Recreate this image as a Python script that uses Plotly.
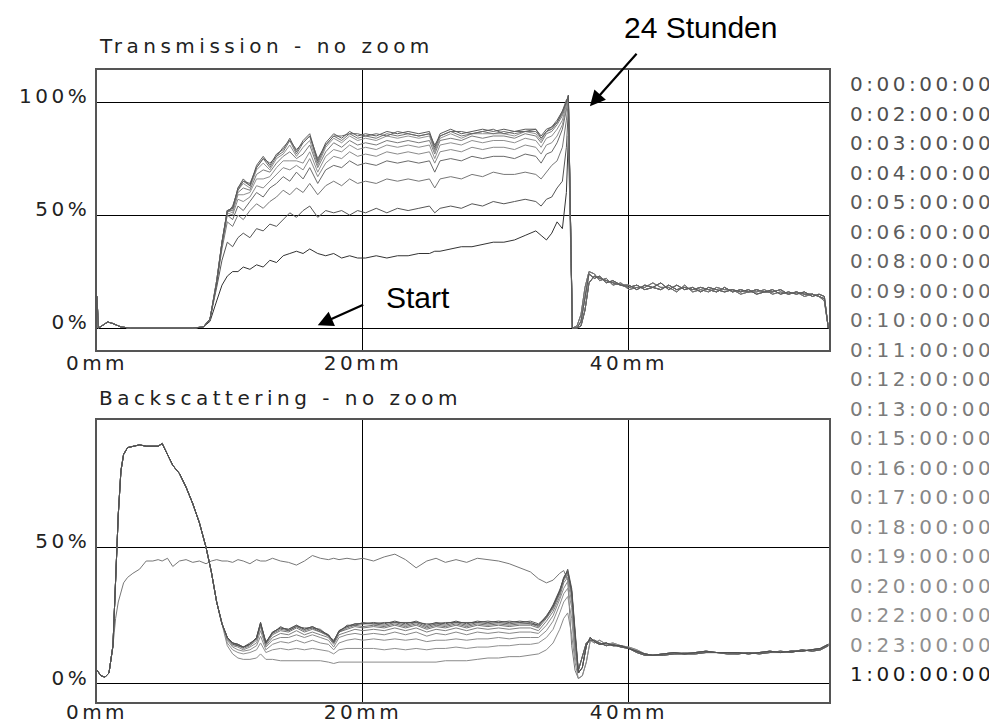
import plotly.graph_objects as go

# legend list of measurement times
TIMES = ["0:00:00:00", "0:02:00:00", "0:03:00:00", "0:04:00:00", "0:05:00:00",
         "0:06:00:00", "0:08:00:00", "0:09:00:00", "0:10:00:00", "0:11:00:00",
         "0:12:00:00", "0:13:00:00", "0:15:00:00", "0:16:00:00", "0:17:00:00",
         "0:18:00:00", "0:19:00:00", "0:20:00:00", "0:22:00:00", "0:23:00:00",
         "1:00:00:00"]

# ---------------- Transmission (height in mm, value in %) ----------------
X_T_LEFT = [0, 0.1, 0.5, 0.8, 1.2, 1.8, 2.5, 7.2, 8.0]
T_LEFT = [14, 0, 1.5, 2.7, 2, 0.5, 0, 0, 0.5]

X_T_MID = [8.5, 9.0, 9.4, 9.8, 10.2, 10.6, 11.0, 11.5, 12.0, 12.5,
           13.0, 13.5, 14.0, 14.5, 15.0, 15.5, 16.0, 16.6, 17.2, 17.8,
           18.4, 19.0, 19.6, 20.2, 21.0, 21.8, 22.6, 23.4, 24.2, 25.0,
           25.4, 25.8, 26.6, 27.4, 28.2, 29.0, 29.8, 30.6, 31.4, 32.2,
           33.0, 33.4, 33.8, 34.2, 34.6, 35.0, 35.3, 35.45]

T_0H = [3, 12, 19, 23, 25, 25, 27, 26, 28, 27,
        30, 29, 32, 33, 34, 33, 35, 33, 32, 33,
        31, 32, 31, 31, 32, 31, 32, 32, 33, 33,
        34, 34, 35, 36, 36, 37, 38, 38, 39, 41,
        43, 41, 39, 42, 47, 44, 60, 85]
T_2H = [4, 18, 30, 38, 36, 40, 42, 40, 44, 43,
        46, 45, 48, 51, 49, 52, 54, 49, 52, 51,
        52, 50, 52, 51, 53, 51, 53, 52, 53, 54,
        51, 53, 54, 53, 55, 54, 56, 55, 56, 57,
        56, 54, 57, 58, 62, 65, 80, 97]
T_3H = [4, 20, 35, 47, 45, 50, 48, 52, 55, 53,
        56, 58, 61, 59, 62, 60, 64, 59, 63, 65,
        63, 66, 64, 65, 64, 66, 65, 66, 65, 66,
        62, 66, 67, 66, 68, 67, 69, 68, 68, 69,
        68, 66, 69, 72, 74, 80, 92, 100]
T_4H = [4, 21, 37, 50, 48, 54, 52, 56, 60, 58,
        62, 64, 67, 65, 69, 66, 71, 64, 70, 72,
        71, 74, 72, 73, 72, 74, 73, 74, 73, 74,
        69, 74, 75, 74, 76, 75, 76, 76, 75, 77,
        76, 73, 77, 78, 82, 88, 96, 101]
T_5H = [4, 21, 38, 51, 50, 57, 56, 58, 63, 62,
        65, 68, 71, 70, 72, 70, 75, 67, 73, 76,
        75, 78, 76, 77, 76, 78, 77, 78, 77, 78,
        73, 78, 79, 78, 80, 79, 80, 80, 79, 81,
        80, 77, 81, 82, 85, 90, 97, 101]
T_6H = [4, 21, 38, 52, 51, 59, 59, 60, 66, 66,
        67, 71, 74, 74, 74, 73, 78, 69, 76, 79,
        78, 81, 79, 80, 79, 81, 80, 81, 80, 81,
        75, 81, 82, 81, 83, 82, 83, 83, 82, 84,
        83, 80, 84, 85, 88, 92, 98, 102]
T_8H = [4, 21, 38, 52, 52, 60, 62, 61, 68, 70,
        69, 73, 76, 78, 75, 77, 81, 71, 78, 82,
        80, 83, 81, 82, 81, 83, 82, 83, 82, 83,
        77, 83, 84, 83, 85, 84, 85, 85, 84, 86,
        85, 82, 86, 87, 90, 94, 99, 102]
T_10H = [4, 20, 38, 52, 53, 61, 64, 62, 70, 73,
         70, 75, 77, 81, 76, 80, 83, 72, 80, 84,
         82, 85, 83, 84, 83, 85, 84, 85, 84, 85,
         78, 84, 86, 84, 86, 86, 86, 86, 85, 87,
         86, 83, 87, 88, 91, 95, 99, 103]
T_13H = [4, 20, 38, 52, 53, 62, 65, 63, 71, 75,
         71, 76, 78, 83, 77, 82, 85, 73, 81, 85,
         83, 86, 84, 85, 84, 86, 85, 86, 85, 86,
         79, 85, 87, 85, 86, 87, 86, 87, 86, 87,
         87, 84, 87, 88, 91, 95, 100, 103]
T_17H = [4, 20, 37, 51, 54, 61, 65, 64, 71, 75,
         73, 76, 80, 83, 79, 82, 85, 75, 81, 85,
         85, 86, 86, 85, 86, 85, 87, 86, 85, 86,
         81, 85, 87, 87, 86, 87, 88, 86, 87, 87,
         88, 84, 87, 89, 91, 96, 101, 102]
T_24H = [4, 20, 38, 52, 53, 62, 66, 63, 72, 76,
         72, 77, 79, 84, 78, 83, 86, 74, 82, 86,
         84, 87, 85, 86, 85, 87, 86, 87, 86, 87,
         80, 86, 88, 86, 87, 88, 87, 88, 87, 88,
         88, 85, 88, 89, 92, 96, 100, 103]

X_T_RIGHT = [35.75, 36.1, 36.4, 36.7, 37.0, 37.4, 37.8, 38.3, 38.8, 39.4,
             40.0, 40.6, 41.2, 41.8, 42.4, 43.0, 43.6, 44.2, 44.8, 45.4,
             46.0, 46.6, 47.2, 47.8, 48.4, 49.0, 49.6, 50.2, 50.8, 51.4,
             52.0, 52.6, 53.2, 53.8, 54.3, 54.7, 55.0]
T_RIGHT_A = [0, 0, 1, 8, 20, 23, 22, 21, 20, 19,
             18, 19, 17, 18, 17, 19, 17, 18, 17, 18,
             17, 16, 18, 16, 17, 16, 17, 16, 16, 17,
             15, 16, 15, 15, 14, 13, 0]
T_RIGHT_B = [0, 0, 3, 14, 24, 22, 23, 20, 21, 19,
             19, 17, 19, 18, 20, 17, 19, 17, 18, 16,
             18, 17, 16, 17, 16, 17, 15, 16, 17, 15,
             16, 15, 16, 14, 15, 14, 0]
T_RIGHT_C = [0, 1, 6, 18, 25, 24, 21, 22, 19, 20,
             17, 18, 18, 20, 18, 18, 16, 19, 16, 17,
             16, 18, 17, 17, 15, 16, 16, 17, 15, 16,
             15, 16, 14, 15, 14, 12, 0]

# ---------------- Backscattering ----------------
X_B_LEFT = [0, 0.3, 0.6, 0.9, 1.2, 1.4, 1.6, 1.8, 2.0, 2.3,
            2.7, 3.2, 3.7, 4.2, 4.6, 4.9, 5.3, 5.7, 6.2, 6.7,
            7.2, 7.7, 8.2, 8.6, 9.0, 9.4]
B_LEFT_MAIN = [5, 3, 2.5, 4, 14, 38, 62, 78, 84, 86.5,
               87, 87.5, 87, 87, 87, 88, 84, 80, 77, 72,
               66, 59, 50, 41, 30, 22]
B_LEFT_0H = [5, 3, 2.5, 4, 14, 24, 30, 34, 37, 39,
             40.5, 42, 45, 45, 45.5, 45, 46, 43, 45, 45.5,
             44.5, 45, 44, 45, 45.5, 45]

X_B_MID = [9.8, 10.2, 10.6, 11.0, 11.5, 12.0, 12.3, 12.7, 13.2, 13.8,
           14.4, 15.0, 15.6, 16.2, 16.8, 17.4, 17.8, 18.2, 18.8, 19.4,
           20.0, 20.8, 21.6, 22.4, 23.2, 24.0, 24.8, 25.5, 26.2, 27.0,
           27.8, 28.6, 29.4, 30.2, 31.0, 31.8, 32.6, 33.2, 33.8, 34.3,
           34.8, 35.1, 35.4, 35.7, 35.95]

B_0H = [45, 44.5, 45.5, 45, 44, 45.5, 45, 45, 46, 45,
        44.5, 43.5, 45, 47, 46, 45.5, 46, 45.5, 46, 45.5,
        46, 45, 46.5, 47.5, 45.5, 42.5, 45, 46, 44.5, 45.5,
        44.5, 46, 45.5, 45, 44, 42.5, 41, 38.5, 37, 38,
        40.5, 41.5, 38, 14, 5]
B_2H = [14, 11, 9.5, 9, 9, 9.5, 11, 9, 9, 8.5,
        8.5, 8.5, 8.5, 8.5, 8.5, 8, 7.5, 8, 8, 8,
        8, 8, 8, 8, 8, 8, 8, 8, 8.5, 8.5,
        8.5, 9, 9.5, 9.5, 10, 10, 10.5, 11, 12.5, 15,
        20, 24, 26, 18, 8]
B_3H = [15, 12.5, 11.5, 11, 11.5, 12.5, 15, 11.5, 12.5, 13,
        12.5, 13, 12.5, 13, 12.5, 12, 11, 12.5, 13, 13,
        13, 13, 12.5, 13, 12.5, 13, 12.5, 13, 13, 13.5,
        13, 13.5, 13.5, 14, 14, 14.5, 14.5, 15, 17, 20,
        26, 30, 32, 24, 10]
B_4H = [16, 13.5, 12.5, 12, 12.5, 14, 17.5, 12.5, 14.5, 15.5,
        15, 16, 15, 16, 15, 14.5, 12.5, 15, 16, 16.5,
        16, 16.5, 16, 16.5, 16, 16.5, 15.5, 16, 16, 16.5,
        16, 16.5, 16.5, 17, 16.5, 17, 17, 17, 19.5, 23,
        29, 33, 35, 28, 12]
B_5H = [16.5, 14, 13.5, 12.5, 13.5, 15, 19.5, 13.5, 16, 17,
        17, 18, 17, 18, 17, 16, 13.5, 17, 18, 18.5,
        18, 18.5, 18, 19, 18, 19, 17.5, 18.5, 18, 19,
        18, 19, 18.5, 19, 18.5, 19, 19, 18.5, 21.5, 25,
        31, 35, 37.5, 30, 14]
B_6H = [17, 14.5, 14, 13, 14, 16, 21, 14, 17, 18.5,
        18, 19.5, 18, 19, 18, 17, 14.5, 18, 19, 20,
        19.5, 20, 19.5, 20.5, 19.5, 20.5, 19, 20, 19.5, 20.5,
        19.5, 20.5, 20, 20.5, 20, 20.5, 20.5, 19.5, 23, 26.5,
        32, 37, 39, 32, 16]
B_8H = [17, 15, 14, 13.5, 14.5, 16.5, 22, 14.5, 18, 19.5,
        19, 20.5, 19, 20, 19, 17.5, 15, 19, 20, 21,
        20.5, 21, 20.5, 21.5, 20.5, 21.5, 20, 21, 20.5, 21.5,
        20.5, 21.5, 21, 21.5, 21, 21.5, 21.5, 20.5, 24, 27.5,
        33, 38, 40, 33, 17]
B_10H = [17, 15, 14.5, 13.5, 14.5, 17, 22, 15, 18.5, 20,
         19.5, 21, 19.5, 20.5, 19, 18, 15, 19, 20.5, 21.5,
         21, 21.5, 21, 22, 21, 22, 20.5, 21.5, 21, 22,
         21, 22, 21.5, 22, 21.5, 22, 22, 21, 24.5, 28,
         33.5, 38.5, 40.5, 33.5, 18]
B_13H = [17, 15, 14.5, 13.5, 14.5, 17, 22.5, 15, 19, 20.5,
         20, 21.5, 20, 21, 19.5, 18, 15.5, 19.5, 21, 22,
         22, 22, 21.5, 22.5, 21.5, 22.5, 21, 22, 21.5, 22.5,
         21.5, 22.5, 22, 22.5, 22, 22.5, 22, 21.5, 24.5, 28.5,
         34, 39, 41, 34, 18.5]
B_17H = [17, 14.5, 14, 13.5, 15, 16.5, 22, 15.5, 18.5, 21,
         19.5, 21, 20.5, 20.5, 20, 17.5, 16, 19, 21.5, 21.5,
         22.5, 22, 22.5, 22.5, 22.5, 22.5, 22, 22, 22.5, 22.5,
         22.5, 22.5, 23, 22.5, 23, 22.5, 23, 22, 24.5, 29,
         34.5, 38.5, 42, 35, 19.5]
B_24H = [17, 15, 14.5, 13.5, 14.5, 17, 22.5, 15, 19, 20.5,
         20, 21.5, 20, 21, 19.5, 18, 15.5, 19.5, 21, 22,
         22, 22.5, 22, 23, 22, 23, 21.5, 22.5, 22, 23,
         22, 23, 22.5, 23, 22.5, 23, 22.5, 21.5, 25, 28.5,
         34, 39, 41.5, 34, 19]

X_B_RIGHT = [36.2, 36.5, 36.8, 37.1, 37.4, 37.8, 38.3, 38.8, 39.4, 40.0,
             40.6, 41.2, 41.8, 42.6, 43.4, 44.2, 45.0, 45.8, 46.6, 47.4,
             48.2, 49.0, 49.8, 50.6, 51.4, 52.2, 53.0, 53.8, 54.4, 55.0]
B_RIGHT_A = [2, 3, 8, 16, 15, 16, 14.5, 15, 14, 13.5,
             12.5, 11, 10.5, 11, 11, 11.5, 11.5, 11.5, 11.5, 11.5,
             11, 11.5, 11.5, 11.5, 11.5, 12, 12, 12.5, 12.5, 14]
B_RIGHT_B = [4, 6, 14, 17, 15.5, 14.5, 15, 14, 14, 13,
             12, 11, 10.5, 11, 11.5, 11, 11.5, 12, 11.5, 11.5,
             11.5, 11, 11.5, 12, 11.5, 12, 12, 12.5, 13, 14.5]
B_RIGHT_C = [5, 10, 15, 16, 16, 15, 14, 14.5, 13.5, 13,
             11.5, 10.5, 10.5, 10.5, 11, 11, 11, 11.5, 11.5, 11,
             11, 11.5, 11, 11.5, 12, 11.5, 12.5, 12, 12.5, 14]

# curves drawn: (label, transmission mid, T right part, BS left, BS mid, BS right)
CURVES = [
    ("0h", T_0H, T_RIGHT_A, B_LEFT_0H, B_0H, B_RIGHT_A),
    ("2h", T_2H, T_RIGHT_B, B_LEFT_MAIN, B_2H, B_RIGHT_A),
    ("3h", T_3H, T_RIGHT_C, B_LEFT_MAIN, B_3H, B_RIGHT_B),
    ("4h", T_4H, T_RIGHT_A, B_LEFT_MAIN, B_4H, B_RIGHT_C),
    ("5h", T_5H, T_RIGHT_B, B_LEFT_MAIN, B_5H, B_RIGHT_B),
    ("6h", T_6H, T_RIGHT_C, B_LEFT_MAIN, B_6H, B_RIGHT_C),
    ("8h", T_8H, T_RIGHT_A, B_LEFT_MAIN, B_8H, B_RIGHT_B),
    ("10h", T_10H, T_RIGHT_B, B_LEFT_MAIN, B_10H, B_RIGHT_C),
    ("13h", T_13H, T_RIGHT_C, B_LEFT_MAIN, B_13H, B_RIGHT_B),
    ("17h", T_17H, T_RIGHT_A, B_LEFT_MAIN, B_17H, B_RIGHT_C),
    ("24h", T_24H, T_RIGHT_B, B_LEFT_MAIN, B_24H, B_RIGHT_B),
]

T_COLORS = ["#333333", "#555555", "#777777", "#6a6a6a", "#8a8a8a", "#8f8f8f",
            "#7a7a7a", "#909090", "#727272", "#666666", "#5a5a5a"]
B_COLORS = ["#777777", "#8a8a8a", "#909090", "#8c8c8c", "#888888", "#7e7e7e",
            "#777777", "#707070", "#666666", "#5e5e5e", "#505050"]
LABEL_COLORS = ["#4d4d4d", "#505050", "#535353", "#565656", "#5a5a5a", "#5e5e5e",
                "#636363", "#686868", "#6d6d6d", "#727272", "#777777", "#7b7b7b",
                "#7f7f7f", "#828282", "#858585", "#888888", "#8a8a8a", "#8c8c8c",
                "#8e8e8e", "#909090", "#1a1a1a"]

W, H = 997, 722
OFF = 8  # the page body adds an 8px margin around the plot div
FONT = "DejaVu Sans"
TXT = "#222222"


def px(x):
    return (x - OFF) / W


def py(y):
    return 1 - (y - OFF) / H


def spaced(s, sp=3.5):
    return '<span style="letter-spacing:%spx">%s</span>' % (sp, s)


fig = go.Figure()
x_t = X_T_LEFT + X_T_MID + X_T_RIGHT
x_b = X_B_LEFT + X_B_MID + X_B_RIGHT
for i, (name, t_mid, t_right, b_left, b_mid, b_right) in enumerate(CURVES):
    fig.add_trace(go.Scatter(x=x_t, y=T_LEFT + t_mid + t_right, mode="lines",
                             line=dict(color=T_COLORS[i], width=1), name=name,
                             xaxis="x", yaxis="y"))
    fig.add_trace(go.Scatter(x=x_b, y=b_left + b_mid + b_right, mode="lines",
                             line=dict(color=B_COLORS[i], width=1), name=name,
                             xaxis="x2", yaxis="y2"))

xd = [px(97), px(829)]
ax_common = dict(showline=True, mirror=True, linecolor="#555555", linewidth=1.5,
                 showgrid=True, gridcolor="black", gridwidth=1, zeroline=False,
                 automargin=False, ticks="",
                 tickfont=dict(family=FONT, size=20, color=TXT))
x_ticktext = [spaced(t) for t in ["0mm", "20mm", "40mm"]]

fig.update_layout(
    width=W, height=H, margin=dict(l=0, r=0, t=0, b=0, autoexpand=False),
    paper_bgcolor="white", plot_bgcolor="white", showlegend=False,
    xaxis=dict(domain=xd, range=[0, 55.05], anchor="y", tickmode="array",
               tickvals=[0, 20, 40], ticktext=x_ticktext, ticklabelstandoff=-6,
               **ax_common),
    yaxis=dict(domain=[py(350), py(70)], range=[-9.7, 114.2], anchor="x",
               tickmode="array", tickvals=[0, 50, 100],
               ticktext=[spaced(t) for t in ["0%", "50%", "100%"]],
               ticklabelshift=-6, ticklabelstandoff=1, **ax_common),
    xaxis2=dict(domain=xd, range=[0, 55.05], anchor="y2", tickmode="array",
                tickvals=[0, 20, 40], ticktext=x_ticktext, ticklabelstandoff=-9,
                **ax_common),
    yaxis2=dict(domain=[py(702), py(420)], range=[-6.6, 96.6], anchor="x2",
                tickmode="array", tickvals=[0, 50],
                ticktext=[spaced(t) for t in ["0%", "50%"]],
                ticklabelshift=-6, ticklabelstandoff=1, **ax_common),
)

# panel titles
for title, yc in [("Transmission - no zoom", 46), ("Backscattering - no zoom", 398)]:
    fig.add_annotation(text=spaced(title, 4.5), x=px(97), y=py(yc), xref="paper",
                       yref="paper", xanchor="left", yanchor="middle", showarrow=False,
                       font=dict(family=FONT, size=20, color=TXT))

# list of times on the right
for i, t in enumerate(TIMES):
    fig.add_annotation(text=spaced(t, 3.5), x=px(848), y=py(84 + i * 29.5),
                       xref="paper", yref="paper", xanchor="left", yanchor="middle",
                       showarrow=False, font=dict(family=FONT, size=20, color=LABEL_COLORS[i]))

# callouts
ann_font = dict(family="Liberation Sans, Arial", size=30, color="black")
arrow = dict(showarrow=True, arrowhead=2, arrowsize=1.4, arrowwidth=2.2,
             arrowcolor="black", font=dict(size=1))
fig.add_annotation(text="24 Stunden", x=px(700), y=py(28), xref="paper", yref="paper",
                   xanchor="center", yanchor="middle", showarrow=False, font=ann_font)
fig.add_annotation(text="", x=37.07, y=98.2, xref="x", yref="y", ax=48, ay=-54, **arrow)
fig.add_annotation(text="Start", x=px(418), y=py(297), xref="paper", yref="paper",
                   xanchor="center", yanchor="middle", showarrow=False, font=ann_font)
fig.add_annotation(text="", x=16.6, y=1.3, xref="x", yref="y", ax=47, ay=-21, **arrow)

fig.write_html("out.html")
